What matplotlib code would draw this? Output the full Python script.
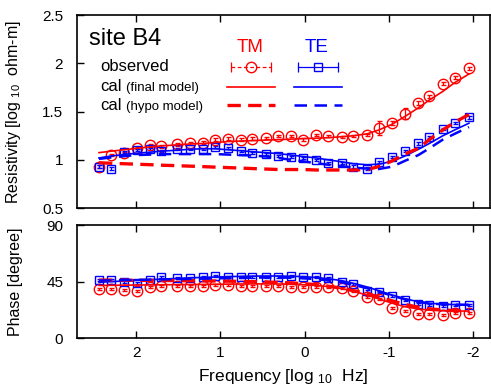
import matplotlib
matplotlib.use("Agg")
import matplotlib.pyplot as plt
import numpy as np

plt.rcParams.update({
    "font.family": ["Liberation Sans", "DejaVu Sans"],
    "mathtext.default": "regular",
    "axes.unicode_minus": False,
    "font.size": 11,
    "axes.linewidth": 1.2,
    "xtick.direction": "in",
    "ytick.direction": "in",
})

RED = "#ff0000"
BLUE = "#0000ff"

# log10 frequency of each sounding
freq = [2.44, 2.30, 2.14, 1.99, 1.83, 1.70, 1.52, 1.36, 1.21, 1.06,
        0.91, 0.76, 0.62, 0.46, 0.31, 0.16, 0.02, -0.14, -0.28, -0.44,
        -0.58, -0.74, -0.88, -1.04, -1.19, -1.35, -1.48, -1.64, -1.78, -1.95]

# observed apparent resistivity (log10 ohm-m)
rho_tm = [0.93, 1.05, 1.07, 1.12, 1.15, 1.14, 1.16, 1.17, 1.18, 1.21,
          1.22, 1.21, 1.22, 1.23, 1.25, 1.25, 1.21, 1.26, 1.25, 1.24,
          1.25, 1.26, 1.33, 1.38, 1.48, 1.59, 1.66, 1.79, 1.85, 1.95]
rho_tm_err = [0.012] * 22 + [0.07, 0.02, 0.06, 0.02, 0.015, 0.015, 0.015, 0.015]
rho_te = [0.93, 0.91, 1.08, 1.10, 1.11, 1.09, 1.11, 1.11, 1.11, 1.13,
          1.12, 1.09, 1.07, 1.06, 1.04, 1.03, 1.02, 1.00, 0.97, 0.97,
          0.93, 0.91, 0.98, 1.03, 1.09, 1.17, 1.24, 1.32, 1.38, 1.44]
rho_te_err = [0.012] * 30

# observed phase (degree)
phs_tm = [38.9, 38.9, 38.4, 37.6, 40.5, 41.5, 41.5, 41.5, 41.5, 42.3,
          42.3, 41.5, 41.5, 41.5, 41.5, 41.0, 41.0, 41.0, 41.0, 39.7,
          37.8, 33.0, 31.0, 23.8, 21.9, 19.3, 19.3, 18.5, 19.9, 20.3]
phs_te = [46.3, 46.3, 45.0, 44.2, 46.3, 48.4, 47.6, 47.6, 48.4, 49.5,
          48.9, 48.9, 48.9, 48.9, 49.0, 49.5, 49.0, 49.0, 47.6, 45.0,
          43.1, 37.8, 36.5, 33.5, 30.4, 27.2, 26.5, 25.7, 26.5, 26.5]
phs_err = [0.8] * 30

# calculated responses, final model
cal_rho_tm = [1.075, 1.09, 1.105, 1.12, 1.135, 1.145, 1.155, 1.165, 1.17, 1.18,
              1.19, 1.195, 1.20, 1.205, 1.21, 1.215, 1.22, 1.225, 1.23, 1.24,
              1.25, 1.27, 1.31, 1.37, 1.45, 1.54, 1.62, 1.71, 1.80, 1.89]
cal_rho_te = [1.02, 1.04, 1.055, 1.07, 1.08, 1.09, 1.10, 1.11, 1.115, 1.115,
              1.105, 1.095, 1.085, 1.075, 1.065, 1.05, 1.035, 1.02, 1.00, 0.98,
              0.96, 0.95, 0.955, 0.985, 1.04, 1.11, 1.17, 1.25, 1.31, 1.38]
cal_phs_tm = [42.0, 42.1, 42.2, 42.3, 42.4, 42.5, 42.6, 42.7, 42.8, 42.9,
              43.0, 43.1, 43.2, 43.2, 43.1, 42.9, 42.5, 42.0, 41.0, 39.5,
              37.3, 34.3, 31.2, 27.8, 25.0, 23.2, 22.3, 21.8, 21.6, 21.5]
cal_phs_te = [44.5, 45.0, 45.5, 46.0, 46.5, 47.0, 47.5, 48.0, 48.4, 48.7,
              49.0, 49.2, 49.4, 49.5, 49.5, 49.3, 49.0, 48.3, 47.3, 45.8,
              43.6, 40.8, 37.8, 34.3, 31.3, 29.0, 27.8, 27.0, 26.7, 26.6]

# calculated responses, hypothetical model
hyp_rho_tm = [0.97, 0.965, 0.96, 0.955, 0.95, 0.945, 0.94, 0.935, 0.93, 0.925,
              0.92, 0.915, 0.91, 0.905, 0.90, 0.90, 0.90, 0.895, 0.895, 0.895,
              0.895, 0.90, 0.93, 0.99, 1.06, 1.12, 1.21, 1.31, 1.39, 1.47]
hyp_rho_te = [1.01, 1.025, 1.04, 1.05, 1.055, 1.06, 1.06, 1.06, 1.06, 1.06,
              1.055, 1.05, 1.045, 1.035, 1.02, 1.00, 0.985, 0.965, 0.95, 0.935,
              0.92, 0.91, 0.905, 0.93, 0.99, 1.05, 1.12, 1.21, 1.27, 1.34]
hyp_phs_tm = [46.2, 46.2, 46.1, 46.0, 46.0, 45.9, 45.8, 45.7, 45.6, 45.5,
              45.4, 45.2, 45.0, 44.7, 44.4, 44.0, 43.4, 42.6, 41.4, 39.8,
              37.8, 35.5, 32.8, 29.6, 26.8, 24.6, 23.3, 22.4, 22.0, 21.8]
hyp_phs_te = [45.8, 46.0, 46.2, 46.4, 46.6, 46.8, 47.0, 47.2, 47.4, 47.6,
              47.8, 48.0, 48.2, 48.3, 48.3, 48.1, 47.7, 47.0, 45.9, 44.4,
              42.4, 39.8, 37.0, 33.8, 30.9, 28.8, 27.6, 26.9, 26.6, 26.5]


def draw_obs(ax, y, yerr, color, marker, ms):
    ax.errorbar(freq, y, yerr=yerr, fmt=marker, color=color, mfc="none",
                mec=color, ms=ms, mew=1.0, elinewidth=0.9, capsize=1.8,
                capthick=0.9, zorder=3)


def draw_curves(ax, tm_fin, te_fin, tm_hyp, te_hyp):
    ax.plot(freq, tm_fin, color=RED, lw=1.2, zorder=4)
    ax.plot(freq, te_fin, color=BLUE, lw=1.2, zorder=4)
    ax.plot(freq, tm_hyp, color=RED, lw=2.4, dashes=(4, 2.2), zorder=5)
    ax.plot(freq, te_hyp, color=BLUE, lw=1.8, dashes=(5, 3), zorder=5)


fig = plt.figure(figsize=(4.91, 3.89), dpi=100)
ax_r = fig.add_axes([0.157, 0.465, 0.841, 0.496])
ax_p = fig.add_axes([0.157, 0.131, 0.841, 0.290])

draw_obs(ax_r, rho_tm, rho_tm_err, RED, "o", 7.5)
draw_obs(ax_r, rho_te, rho_te_err, BLUE, "s", 5.5)
draw_curves(ax_r, cal_rho_tm, cal_rho_te, hyp_rho_tm, hyp_rho_te)

draw_obs(ax_p, phs_tm, phs_err, RED, "o", 7.5)
draw_obs(ax_p, phs_te, phs_err, BLUE, "s", 5.5)
draw_curves(ax_p, cal_phs_tm, cal_phs_te, hyp_phs_tm, hyp_phs_te)

for ax in (ax_r, ax_p):
    ax.set_xlim(2.7, -2.2)
    ax.set_xticks([2, 1, 0, -1, -2])
    ax.tick_params(top=True, right=False, length=5, width=1.0, labelsize=11)
    ax.tick_params(axis="y", pad=10)
    ax.tick_params(axis="x", pad=6)

ax_r.set_ylim(0.5, 2.5)
ax_r.set_yticks([0.5, 1, 1.5, 2, 2.5])
ax_r.set_yticklabels(["0.5", "1", "1.5", "2", "2.5"])
ax_r.tick_params(labelbottom=False)
ax_r.set_ylabel("Resistivity [log $_{10}$  ohm-m]", fontsize=11.5)
ax_r.yaxis.set_label_coords(-0.13, 0.5)

ax_p.set_ylim(0, 90)
ax_p.set_yticks([0, 45, 90])
ax_p.set_ylabel("Phase [degree]", fontsize=11.5)
ax_p.yaxis.set_label_coords(-0.13, 0.5)
ax_p.set_xlabel("Frequency [log $_{10}$  Hz]", fontsize=12.5)
ax_p.xaxis.set_label_coords(0.5, -0.26)

# key drawn by hand, gnuplot style
tr = ax_r.transAxes
ax_r.text(0.029, 0.845, "site B4", transform=tr, fontsize=17)
ax_r.text(0.419, 0.808, "TM", transform=tr, fontsize=13.5, color=RED, ha="center")
ax_r.text(0.580, 0.808, "TE", transform=tr, fontsize=13.5, color=BLUE, ha="center")
ax_r.text(0.056, 0.712, "observed", transform=tr, fontsize=12)
ax_r.text(0.056, 0.606, "cal", transform=tr, fontsize=12)
ax_r.text(0.118, 0.606, "(final model)", transform=tr, fontsize=9.5)
ax_r.text(0.056, 0.508, "cal", transform=tr, fontsize=12)
ax_r.text(0.118, 0.508, "(hypo model)", transform=tr, fontsize=9.5)

ky = 0.732
ax_r.plot([0.372, 0.469], [ky, ky], transform=tr, color=RED, lw=0.9, ls=(0, (3, 2)))
ax_r.plot([0.372, 0.469], [ky, ky], transform=tr, color=RED, lw=0,
          marker="|", ms=7, mew=0.9)
ax_r.plot([0.4205], [ky], transform=tr, color=RED, marker="o", mfc="none", ms=7.5, mew=1.0)
ax_r.plot([0.536, 0.633], [ky, ky], transform=tr, color=BLUE, lw=0.9)
ax_r.plot([0.536, 0.633], [ky, ky], transform=tr, color=BLUE, lw=0,
          marker="|", ms=7, mew=0.9)
ax_r.plot([0.5845], [ky], transform=tr, color=BLUE, marker="s", mfc="none", ms=5.5, mew=1.0)
ax_r.plot([0.362, 0.479], [0.628, 0.628], transform=tr, color=RED, lw=1.2)
ax_r.plot([0.525, 0.641], [0.628, 0.628], transform=tr, color=BLUE, lw=1.2)
ax_r.plot([0.362, 0.479], [0.532, 0.532], transform=tr, color=RED, lw=2.4, dashes=(4, 2.2))
ax_r.plot([0.525, 0.641], [0.532, 0.532], transform=tr, color=BLUE, lw=1.8, dashes=(5, 3))

fig.savefig("out.png", dpi=100)
